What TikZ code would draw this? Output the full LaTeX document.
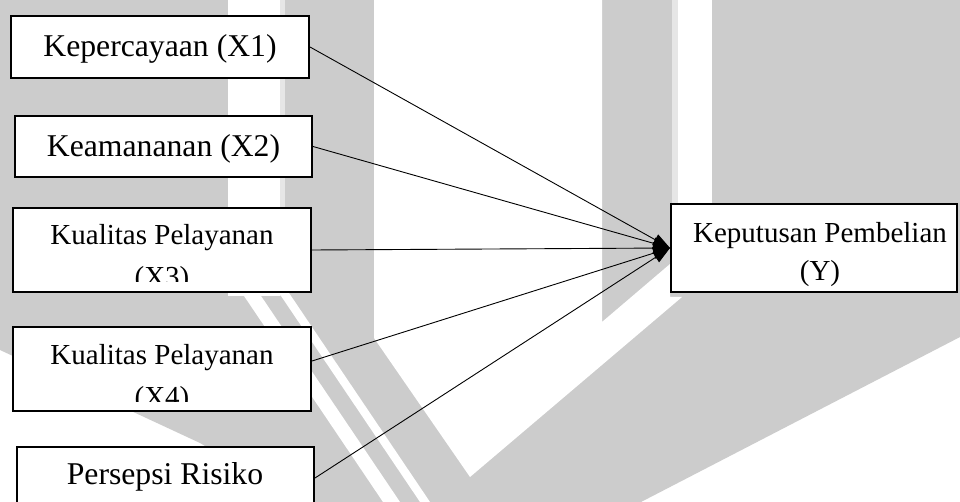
\documentclass[tikz,border=0pt]{standalone}
\usepackage{fontspec}
\setmainfont{Liberation Serif}
\usetikzlibrary{arrows.meta}
\definecolor{wm}{HTML}{CCCCCC}
\definecolor{wmlight}{HTML}{E6E6E6}
\begin{document}
\begin{tikzpicture}[x=1pt,y=-1pt,
  box/.style={draw=black,line width=2pt,fill=white,inner sep=0pt},
  big/.style={font=\fontsize{31.7}{38}\selectfont,anchor=base,inner sep=0pt},
  small/.style={font=\fontsize{29}{35}\selectfont,anchor=base,inner sep=0pt},
  link/.style={draw=black,line width=0.9pt,-{Triangle[length=17pt,width=12pt]}}]
\useasboundingbox (0,0) rectangle (960,502);
\clip (0,0) rectangle (960,502);
% watermark
\fill[white] (0,0) rectangle (960,502);
\fill[wm] (0,0) -- (960,0) -- (960,337) -- (641,502) -- (300,502) -- (200,443) -- (0,350) -- cycle;
\fill[white] (228,0) rectangle (280,296);
\fill[wmlight] (280,0) rectangle (285,296);
\fill[white] (240,290) -- (257,290) -- (400,502) -- (383,502) -- cycle;
\fill[white] (277,290) -- (287,290) -- (430,502) -- (420,502) -- cycle;
\fill[white] (374,0) -- (602,0) -- (602,322) -- (670,264) -- (670,297) -- (682,297) -- (470,477) -- (374,338) -- cycle;
\fill[wmlight] (672,0) rectangle (678,203);
\fill[white] (678,0) rectangle (712,203);
% boxes
\node[box,minimum width=298pt,minimum height=62pt] (x1) at (160,47) {};
\node[box,minimum width=297pt,minimum height=61pt] (x2) at (163.5,146.5) {};
\node[box,minimum width=298pt,minimum height=84pt] (x3) at (162,250) {};
\node[box,minimum width=298pt,minimum height=84pt] (x4) at (162,369) {};
\node[box,minimum width=297pt,minimum height=62pt] (x5) at (165.5,478) {};
\node[box,minimum width=286pt,minimum height=88pt] (y) at (814,248) {};
% texts
\node[big] (t1) at (160,57) {Kepercayaan (X1)};
\node[big] (t2) at (163.5,157) {Keamananan (X2)};
\begin{scope}
\clip (14,209) rectangle (310,282);
\node[small] (t3a) at (162,245) {Kualitas Pelayanan};
\node[small] (t3b) at (162,287) {(X3)};
\end{scope}
\begin{scope}
\clip (14,328) rectangle (310,401);
\node[small] (t4a) at (162,364) {Kualitas Pelayanan};
\node[small] (t4b) at (162,406) {(X4)};
\end{scope}
\node[big] (t5) at (165,484) {Persepsi Risiko};
\node[small] (ty1) at (820,243) {Keputusan Pembelian};
\node[small] (ty2) at (820,281) {(Y)};
% connectors
\draw[link] (x1.east) -- (y.west);
\draw[link] (x2.east) -- (y.west);
\draw[link] (x3.east) -- (y.west);
\draw[link] ([yshift=8pt]x4.east) -- (y.west);
\draw[link] (x5.east) -- (y.west);
\end{tikzpicture}
\end{document}
